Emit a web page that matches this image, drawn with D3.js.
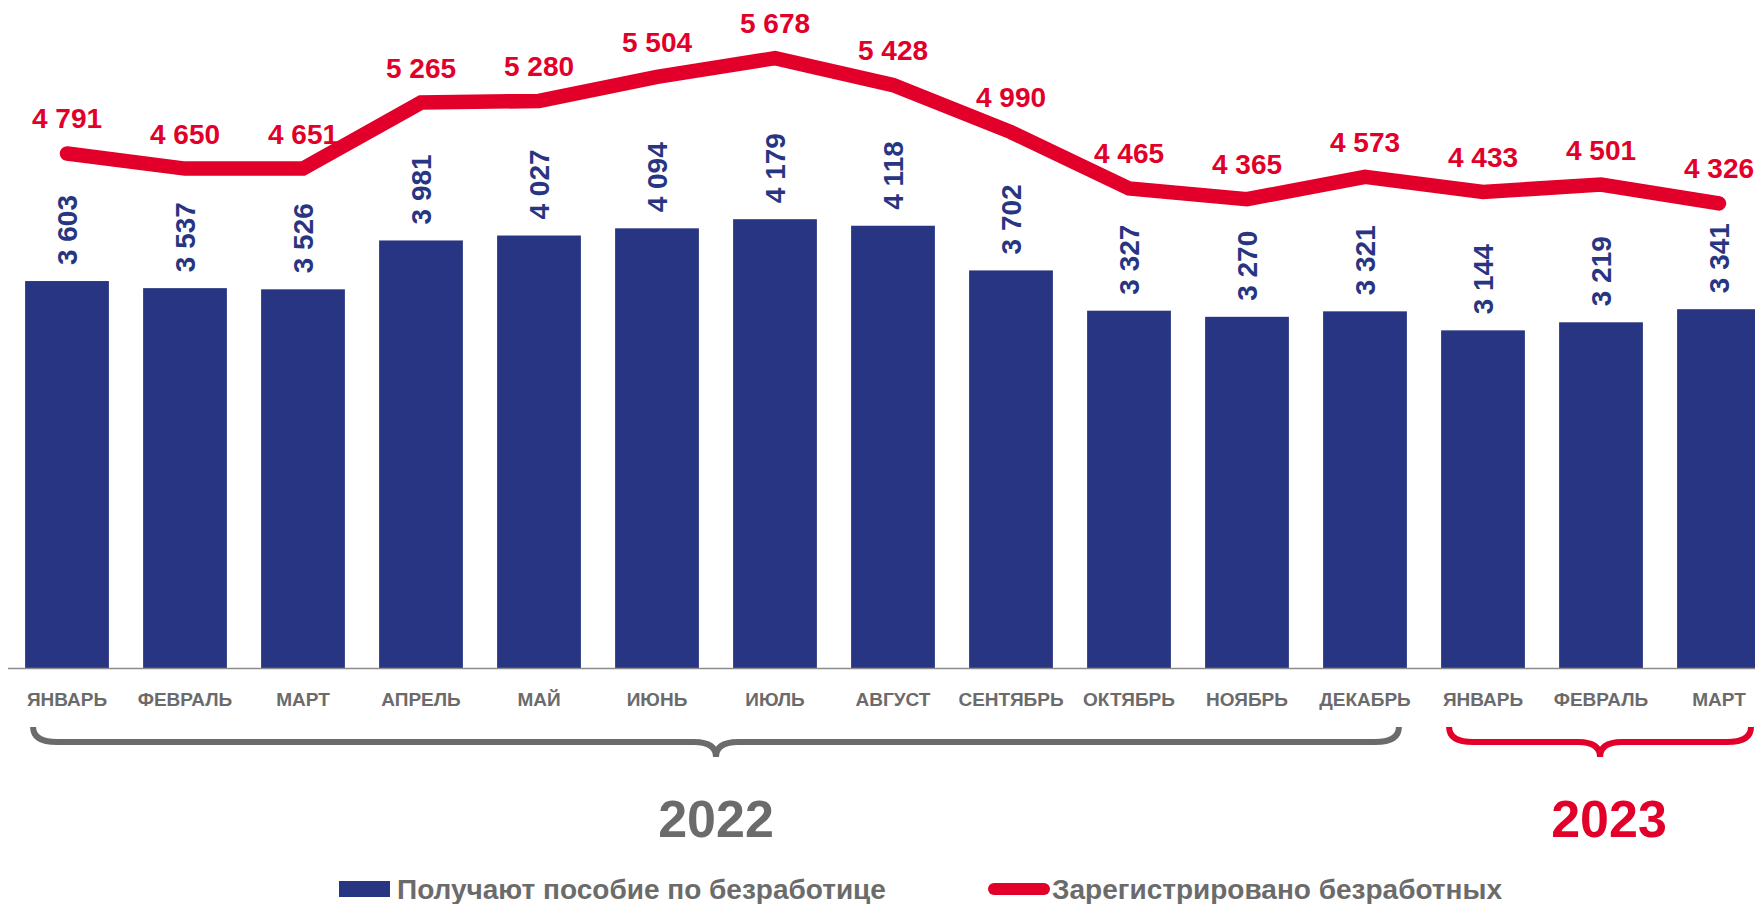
<!DOCTYPE html>
<html>
<head>
<meta charset="utf-8">
<title>Безработица</title>
<style>
  body { margin: 0; background: #fff; }
  svg text { font-family: "Liberation Sans", Arial, sans-serif; font-weight: bold; }
</style>
</head>
<body>
<script src="https://cdn.jsdelivr.net/npm/d3@7"></script>
<script>
// данные
var months = ["ЯНВАРЬ", "ФЕВРАЛЬ", "МАРТ", "АПРЕЛЬ", "МАЙ", "ИЮНЬ", "ИЮЛЬ", "АВГУСТ",
  "СЕНТЯБРЬ", "ОКТЯБРЬ", "НОЯБРЬ", "ДЕКАБРЬ", "ЯНВАРЬ", "ФЕВРАЛЬ", "МАРТ"];
var years = ["2022", "2022", "2022", "2022", "2022", "2022", "2022", "2022",
  "2022", "2022", "2022", "2022", "2023", "2023", "2023"];
var posobie = [3603, 3537, 3526, 3981, 4027, 4094, 4179, 4118, 3702, 3327, 3270, 3321, 3144, 3219, 3341];
var zaregistr = [4791, 4650, 4651, 5265, 5280, 5504, 5678, 5428, 4990, 4465, 4365, 4573, 4433, 4501, 4326];
var seriesNames = ["Получают пособие по безработице", "Зарегистрировано безработных"];

var width = 1755, height = 904;
var blue = "#283582", red = "#e2002a", gray = "#6b6b6b";

var keys = months.map(function(m, i) { return years[i] + "-" + i; });
var fmt = d3.formatLocale({decimal: ",", thousands: " ", grouping: [3], currency: ["", ""]}).format(",d");

var svg = d3.select("body").append("svg")
  .attr("width", width)
  .attr("height", height);

var x = d3.scaleBand()
  .domain(keys)
  .range([8, 1778])
  .paddingInner(0.29)
  .paddingOuter(0.145);

var y = d3.scaleLinear()
  .domain([0, 6220])
  .range([668, 0]);

// столбцы
svg.selectAll("rect.bar")
  .data(posobie)
  .enter()
  .append("rect")
  .attr("class", "bar")
  .attr("x", function(d, i) { return x(keys[i]); })
  .attr("y", function(d) { return y(d); })
  .attr("width", x.bandwidth())
  .attr("height", function(d) { return y(0) - y(d); })
  .attr("fill", blue);

// ось
var xAxis = svg.append("g")
  .attr("transform", "translate(0," + y(0) + ")")
  .call(d3.axisBottom(x).tickSize(0).tickPadding(25).tickFormat(function(k, i) { return months[i]; }));
xAxis.select(".domain").attr("stroke", "#8c8c8c").attr("stroke-width", 1.5).attr("d", "M8,0.5H" + width);
xAxis.selectAll("text")
  .attr("fill", gray)
  .attr("font-size", 19)
  .attr("font-family", "'Liberation Sans', Arial, sans-serif")
  .attr("font-weight", "bold");

// подписи столбцов
svg.selectAll("text.barlab")
  .data(posobie)
  .enter()
  .append("text")
  .attr("class", "barlab")
  .attr("transform", function(d, i) {
    return "translate(" + (x(keys[i]) + x.bandwidth() / 2) + "," + (y(d) - 16) + ") rotate(-90)";
  })
  .attr("dy", "0.36em")
  .attr("font-size", 28)
  .attr("fill", blue)
  .text(function(d) { return fmt(d); });

// линия
var line = d3.line()
  .x(function(d, i) { return x(keys[i]) + x.bandwidth() / 2; })
  .y(function(d) { return y(d); });

svg.append("path")
  .datum(zaregistr)
  .attr("d", line)
  .attr("fill", "none")
  .attr("stroke", red)
  .attr("stroke-width", 14.5)
  .attr("stroke-linecap", "round")
  .attr("stroke-linejoin", "miter");

svg.selectAll("text.linelab")
  .data(zaregistr)
  .enter()
  .append("text")
  .attr("class", "linelab")
  .attr("x", function(d, i) { return x(keys[i]) + x.bandwidth() / 2; })
  .attr("y", function(d) { return y(d) - 25; })
  .attr("text-anchor", "middle")
  .attr("font-size", 28)
  .attr("fill", red)
  .text(function(d) { return fmt(d); });

// скобки годов
function brace(x0, x1, top, mid, tip) {
  var xc = (x0 + x1) / 2;
  return "M" + x0 + "," + top +
    "Q" + x0 + "," + mid + " " + (x0 + 24) + "," + mid +
    "L" + (xc - 22) + "," + mid +
    "Q" + xc + "," + mid + " " + xc + "," + tip +
    "Q" + xc + "," + mid + " " + (xc + 22) + "," + mid +
    "L" + (x1 - 24) + "," + mid +
    "Q" + x1 + "," + mid + " " + x1 + "," + top;
}

var groups = [
  {year: "2022", from: 0, to: 11, color: gray},
  {year: "2023", from: 12, to: 14, color: red}
];

groups.forEach(function(g) {
  var x0 = x(keys[g.from]) + 8;
  var x1 = Math.min(x(keys[g.to]) + x.bandwidth() - 8, width - 4);
  svg.append("path")
    .attr("d", brace(x0, x1, 727, 742, 757))
    .attr("fill", "none")
    .attr("stroke", g.color)
    .attr("stroke-width", 6);
  svg.append("text")
    .attr("x", g.year == "2023" ? (x0 + x1) / 2 + 9 : (x0 + x1) / 2)
    .attr("y", 837)
    .attr("text-anchor", "middle")
    .attr("font-size", 52)
    .attr("fill", g.color)
    .text(g.year);
});

// легенда
svg.append("rect")
  .attr("x", 339).attr("y", 881)
  .attr("width", 51).attr("height", 16)
  .attr("fill", blue);
svg.append("text")
  .attr("x", 397).attr("y", 899)
  .attr("font-size", 28)
  .attr("fill", gray)
  .text(seriesNames[0]);
svg.append("line")
  .attr("x1", 994).attr("x2", 1044)
  .attr("y1", 889).attr("y2", 889)
  .attr("stroke", red)
  .attr("stroke-width", 12)
  .attr("stroke-linecap", "round");
svg.append("text")
  .attr("x", 1052).attr("y", 899)
  .attr("font-size", 28)
  .attr("fill", gray)
  .text(seriesNames[1]);
</script>
</body>
</html>
